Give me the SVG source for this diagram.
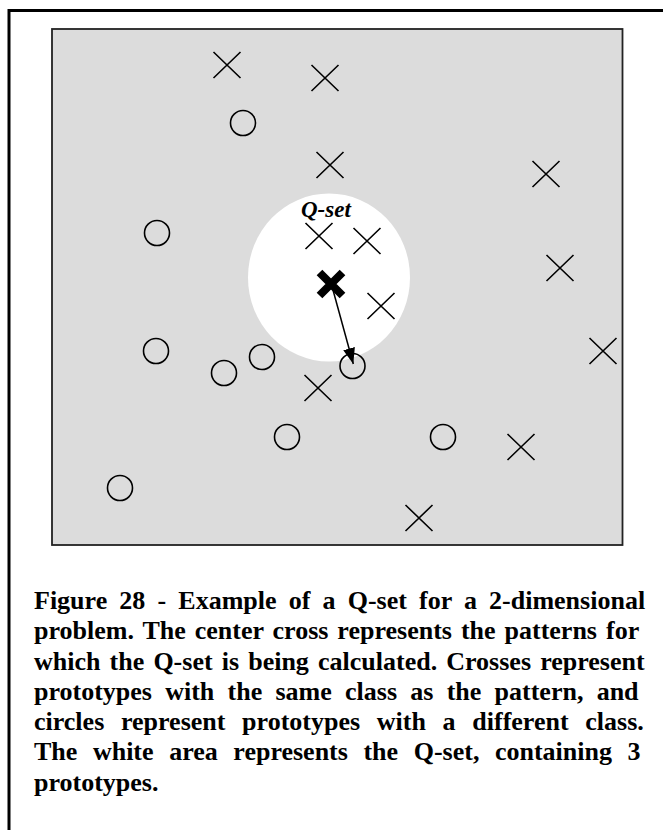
<svg xmlns="http://www.w3.org/2000/svg" width="663" height="830" viewBox="0 0 663 830">
<style>
.x{stroke:#000;stroke-width:1.6;fill:none}
.o{stroke:#000;stroke-width:1.6;fill:none}
.cap{font-family:"Liberation Serif","Times New Roman",serif;font-weight:bold;font-size:26px;fill:#000}
.ql{font-family:"Liberation Serif","Times New Roman",serif;font-weight:bold;font-style:italic;font-size:23px;fill:#000}
</style>
<defs>
<path id="xm" d="M-13.5,-13 L13.5,13 M-13.5,13 L13.5,-13"/>
<marker id="ah" viewBox="0 0 16 12" refX="16" refY="6" markerWidth="16" markerHeight="12" markerUnits="userSpaceOnUse" orient="auto">
<path d="M0,0 L16,6 L0,12 Z" fill="#000"/>
</marker>
</defs>
<rect width="663" height="830" fill="#fff"/>
<polyline points="9,830 9,10.5 663,10.5" fill="none" stroke="#000" stroke-width="3"/>
<g id="plane">
<rect x="52" y="29" width="570.5" height="516" fill="#dcdcdc" stroke="#222" stroke-width="1.8"/>
<ellipse cx="329" cy="277.5" rx="81" ry="84" fill="#fff"/>
<text class="ql" x="301" y="217">Q-set</text>
</g>
<g id="crosses">
<use href="#xm" class="x" x="227" y="65"/>
<use href="#xm" class="x" x="325" y="78"/>
<use href="#xm" class="x" x="330" y="165"/>
<use href="#xm" class="x" x="546" y="174"/>
<use href="#xm" class="x" x="319" y="236"/>
<use href="#xm" class="x" x="367" y="241"/>
<use href="#xm" class="x" x="560" y="268"/>
<use href="#xm" class="x" x="381" y="306"/>
<use href="#xm" class="x" x="603" y="351"/>
<use href="#xm" class="x" x="318" y="388"/>
<use href="#xm" class="x" x="521" y="447"/>
<use href="#xm" class="x" x="419" y="518"/>
</g>
<g id="circles">
<ellipse class="o" cx="243" cy="123" rx="12.5" ry="12.5"/>
<ellipse class="o" cx="157" cy="233" rx="12.5" ry="12.5"/>
<ellipse class="o" cx="156" cy="351" rx="12.5" ry="12.5"/>
<ellipse class="o" cx="224" cy="373" rx="12.5" ry="12.5"/>
<ellipse class="o" cx="262" cy="357" rx="12.5" ry="12.5"/>
<ellipse class="o" cx="352.5" cy="366" rx="12.5" ry="12.5"/>
<ellipse class="o" cx="287" cy="437" rx="12.5" ry="12.5"/>
<ellipse class="o" cx="443" cy="437" rx="12.5" ry="12.5"/>
<ellipse class="o" cx="120" cy="488" rx="12.5" ry="12.5"/>
</g>
<g id="center">
<path d="M319.5,272.5 L342.5,295.5 M319.5,295.5 L342.5,272.5" stroke="#000" stroke-width="8" fill="none"/>
</g>
<g id="connectors">
<line x1="333" y1="290" x2="353.3" y2="364" stroke="#000" stroke-width="1.5" marker-end="url(#ah)"/>
</g>
<g id="caption">
<text class="cap" x="34" y="609" style="word-spacing:5.66px">Figure 28 - Example of a Q-set for a 2-dimensional</text>
<text class="cap" x="34" y="639.3" style="word-spacing:2.48px">problem. The center cross represents the patterns for</text>
<text class="cap" x="34" y="669.5" style="word-spacing:2.63px">which the Q-set is being calculated. Crosses represent</text>
<text class="cap" x="34" y="699.8" style="word-spacing:6.75px">prototypes with the same class as the pattern, and</text>
<text class="cap" x="34" y="730" style="word-spacing:10.2px">circles represent prototypes with a different class.</text>
<text class="cap" x="34" y="760.3" style="word-spacing:9.07px">The white area represents the Q-set, containing 3</text>
<text class="cap" x="34" y="790.5">prototypes.</text>
</g>
</svg>
